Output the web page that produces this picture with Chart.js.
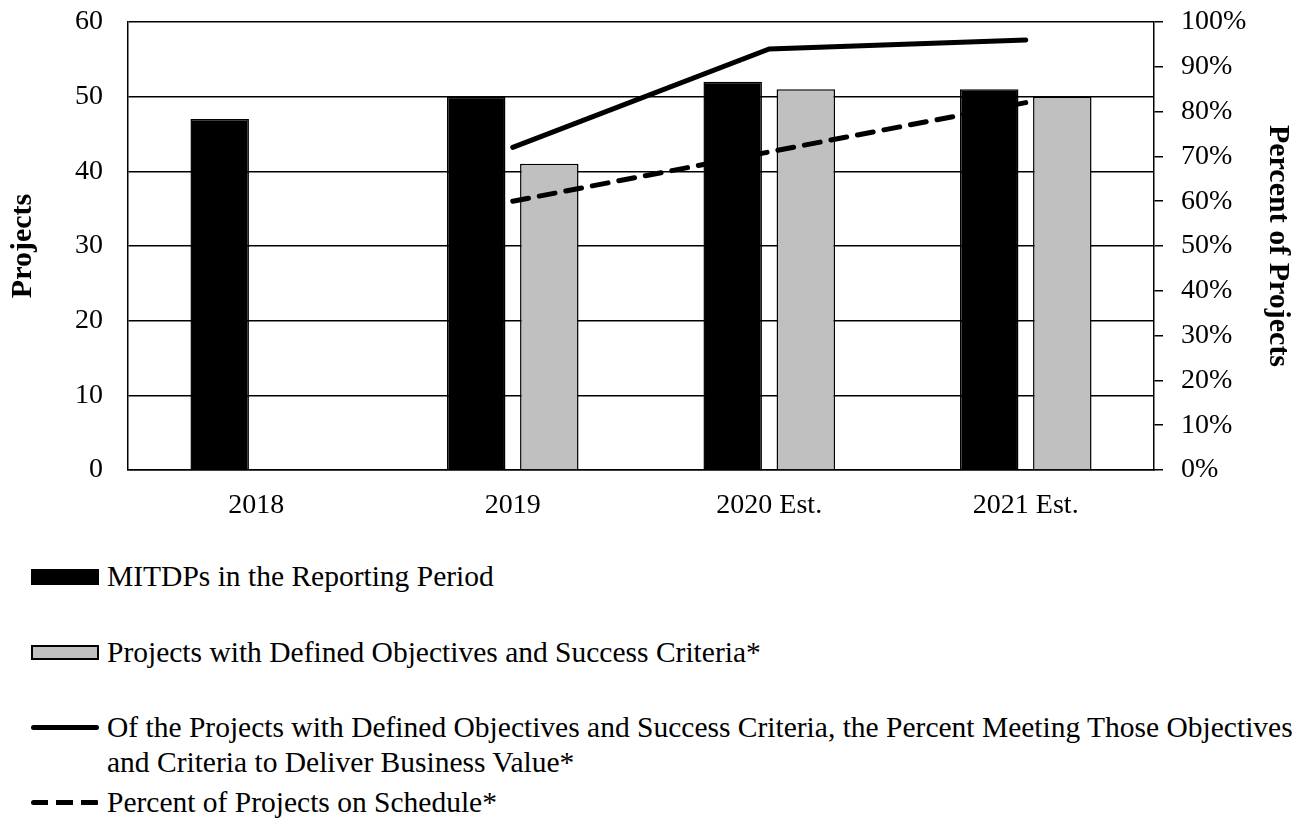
<!DOCTYPE html>
<html lang="en">
<head>
    <title>MITDP Projects</title>
    <meta charset="utf-8">
    <script src="https://cdn.jsdelivr.net/npm/chart.js@4.4.0/dist/chart.umd.js"></script>
    <style>
        body { margin: 0; background: #fff; font-family: "Liberation Serif", "Times New Roman", serif; color: #000; }
        #wrap { position: relative; width: 1309px; height: 819px; }
        #projChart { position: absolute; left: 0; top: 0; }
        .key { position: absolute; left: 31px; font-size: 29.5px; line-height: 35px; }
        .key .sw { position: absolute; left: 0; width: 68px; box-sizing: border-box; }
        .key .txt { position: absolute; left: 76px; top: 0; white-space: nowrap; }
        .sw.fill-black { height: 16px; background: #000; }
        .sw.fill-gray { height: 15px; background: #c0c0c0; border: 2px solid #000; }
        .sw.solid { height: 5px; background: #000; border-radius: 3px; }
        .sw.dash { height: 5px; background: repeating-linear-gradient(to right, #000 0 17px, transparent 17px 25px); border-radius: 3px; }
    </style>
</head>

<body>
    <div id="wrap">
        <canvas id="projChart" width="1309" height="530"></canvas>
        <div id="legend"></div>
    </div>

    <script>
        // Data
        const years = ['2018', '2019', '2020 Est.', '2021 Est.'];
        const mitdps = [47, 50, 52, 51];
        const definedObjectives = [null, 41, 51, 50];
        const meetingObjectivesPct = [null, 72, 94, 96];
        const onSchedulePct = [null, 60, 71, 82];

        const seriesNames = [
            'MITDPs in the Reporting Period',
            'Projects with Defined Objectives and Success Criteria*',
            'Of the Projects with Defined Objectives and Success Criteria, the Percent Meeting Those Objectives\nand Criteria to Deliver Business Value*',
            'Percent of Projects on Schedule*'
        ];

        const serif = '"Liberation Serif", "Times New Roman", serif';
        const tickFont = { family: serif, size: 28 };
        const titleFont = { family: serif, size: 30, weight: 'bold' };

        // fixed axis widths; drop the label padding so the plot top stays put
        const fixWidth = (w) => (s) => {
            s.width = w;
            s.paddingTop = 0;
            s.paddingBottom = 0;
        };

        const ctx = document.getElementById('projChart').getContext('2d');

        new Chart(ctx, {
            type: 'bar',
            data: {
                labels: years,
                datasets: [
                    {
                        type: 'line',
                        label: seriesNames[2],
                        data: meetingObjectivesPct,
                        yAxisID: 'y1',
                        borderColor: '#000',
                        borderWidth: 5,
                        borderCapStyle: 'round',
                        pointRadius: 0,
                        tension: 0,
                    },
                    {
                        type: 'line',
                        label: seriesNames[3],
                        data: onSchedulePct,
                        yAxisID: 'y1',
                        borderColor: '#000',
                        borderWidth: 5,
                        borderDash: [16, 11],
                        borderCapStyle: 'round',
                        pointRadius: 0,
                        tension: 0,
                    },
                    {
                        label: seriesNames[0],
                        data: mitdps,
                        yAxisID: 'y',
                        backgroundColor: '#000',
                        borderColor: '#000',
                        borderWidth: 1.5,
                        barPercentage: 0.8,
                        categoryPercentage: 0.57,
                    },
                    {
                        label: seriesNames[1],
                        data: definedObjectives,
                        yAxisID: 'y',
                        backgroundColor: '#c0c0c0',
                        borderColor: '#000',
                        borderWidth: 1.5,
                        barPercentage: 0.8,
                        categoryPercentage: 0.57,
                    },
                ],
            },
            options: {
                responsive: false,
                animation: false,
                layout: { padding: { top: 22, left: 0, right: 0, bottom: 0 } },
                plugins: {
                    legend: { display: false },
                    tooltip: { enabled: false },
                },
                scales: {
                    x: {
                        grid: { display: false },
                        border: { display: true, color: '#000', width: 1.5 },
                        ticks: { color: '#000', font: tickFont, padding: 11, maxRotation: 0 },
                        afterFit: (s) => { s.height = 60; },
                    },
                    y: {
                        position: 'left',
                        min: 0,
                        max: 60,
                        ticks: { stepSize: 10, color: '#000', font: tickFont, padding: 25 },
                        grid: { color: '#000', lineWidth: 1.5, drawTicks: false },
                        border: { color: '#000', width: 1.5 },
                        title: { display: true, text: 'Projects', color: '#000', font: titleFont, padding: { top: 5, bottom: 0 } },
                        afterFit: fixWidth(128),
                    },
                    y1: {
                        position: 'right',
                        min: 0,
                        max: 100,
                        ticks: { stepSize: 10, color: '#000', font: tickFont, padding: 18, callback: (v) => v + '%' },
                        grid: { drawOnChartArea: false, color: '#000', lineWidth: 1.5, tickLength: 9 },
                        border: { color: '#000', width: 1.5 },
                        title: { display: true, text: 'Percent of Projects', color: '#000', font: titleFont, padding: { top: 13, bottom: 0 } },
                        afterFit: fixWidth(155),
                    },
                },
            },
        });

        // Legend below the chart, one row per series
        const keyStyles = [
            { cls: 'fill-black', top: 559, swTop: 10 },
            { cls: 'fill-gray', top: 635, swTop: 10 },
            { cls: 'solid', top: 710, swTop: 15 },
            { cls: 'dash', top: 785, swTop: 15 },
        ];
        const legend = document.getElementById('legend');
        seriesNames.forEach((name, i) => {
            const k = keyStyles[i];
            const item = document.createElement('div');
            item.className = 'key';
            item.style.top = k.top + 'px';
            const sw = document.createElement('div');
            sw.className = 'sw ' + k.cls;
            sw.style.top = k.swTop + 'px';
            const txt = document.createElement('div');
            txt.className = 'txt';
            txt.innerHTML = name.split('\n').join('<br>');
            item.appendChild(sw);
            item.appendChild(txt);
            legend.appendChild(item);
        });
    </script>
</body>
</html>
